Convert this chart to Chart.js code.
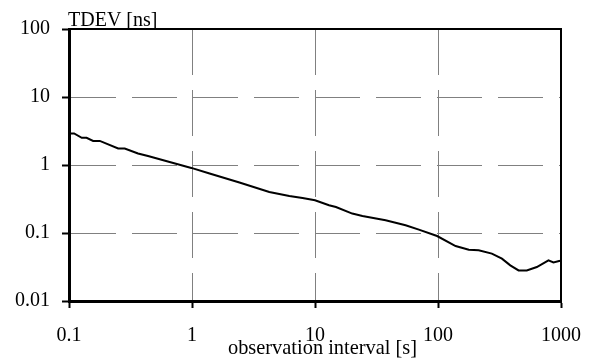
<!DOCTYPE html>
<html>
<head>
<meta charset="utf-8">
<script src="https://cdn.jsdelivr.net/npm/chart.js@4/dist/chart.umd.min.js"></script>
<style>
  html, body { margin: 0; padding: 0; background: #ffffff; }
  #wrap { width: 597px; height: 361px; }
</style>
</head>
<body>
<div id="wrap"><canvas id="c" width="597" height="361"></canvas></div>
<script>
// observation interval tau [s]
const tau = [0.1, 0.11, 0.127, 0.139, 0.157, 0.178, 0.251, 0.284, 0.364, 0.439, 0.658, 0.987,
  1.39, 2.43, 4.25, 6.18, 7.92, 10.0, 13.0, 14.8, 20.1, 24.3, 37.5, 54.5, 69.9, 98.3,
  139, 178, 214, 274, 331, 387, 452, 527, 636, 791, 868, 965, 1000];
// TDEV [ns]
const tdev = [2.91, 2.91, 2.51, 2.51, 2.26, 2.26, 1.75, 1.75, 1.48, 1.36, 1.11, 0.906,
  0.750, 0.552, 0.402, 0.351, 0.328, 0.303, 0.256, 0.2415, 0.193, 0.178, 0.154, 0.130, 0.112, 0.0903,
  0.0643, 0.0569, 0.0556, 0.0497, 0.042, 0.0334, 0.0282, 0.0282, 0.0316, 0.0396, 0.037, 0.0387, 0.039];

const xTickValues = [0.1, 1, 10, 100, 1000];
const xTickLabels = ['0.1', '1', '10', '100', '1000'];
const yTickValues = [0.01, 0.1, 1, 10, 100];
const yTickLabels = ['0.01', '0.1', '1', '10', '100'];

const xTitle = 'observation interval [s]';
const yTitle = 'TDEV [ns]';

const FONT = '"Liberation Serif", "Times New Roman", serif';

const points = tau.map((t, i) => ({ x: t, y: tdev[i] }));

const framePlugin = {
  id: 'frame',
  afterDraw(chart) {
    const ctx = chart.ctx;
    const a = chart.chartArea;
    ctx.save();
    ctx.strokeStyle = '#000';
    ctx.lineWidth = 2;
    ctx.setLineDash([]);
    ctx.beginPath();
    ctx.moveTo(a.left, a.top);
    ctx.lineTo(a.right, a.top);
    ctx.lineTo(a.right, a.bottom);
    ctx.stroke();
    ctx.fillStyle = '#000';
    ctx.font = '20px ' + FONT;
    ctx.textBaseline = 'alphabetic';
    ctx.textAlign = 'left';
    ctx.fillText(yTitle, a.left - 1, a.top - 3);
    ctx.textAlign = 'center';
    ctx.font = '20.4px ' + FONT;
    ctx.fillText(xTitle, (a.left + a.right) / 2 + 7.5, a.bottom + 53);
    ctx.restore();
  }
};

new Chart(document.getElementById('c'), {
  type: 'line',
  data: {
    datasets: [{
      data: points,
      borderColor: '#000000',
      borderWidth: 2,
      pointRadius: 0,
      tension: 0,
      fill: false
    }]
  },
  options: {
    responsive: false,
    animation: false,
    devicePixelRatio: 1,
    layout: { padding: { left: 0, top: 29, right: 34, bottom: 0 } },
    plugins: { legend: { display: false }, tooltip: { enabled: false }, title: { display: false } },
    scales: {
      x: {
        type: 'logarithmic',
        min: 0.1, max: 1000,
        afterBuildTicks(scale) { scale.ticks = xTickValues.map(v => ({ value: v })); },
        afterFit(scale) { scale.height = 60; },
        ticks: {
          autoSkip: false, maxRotation: 0, padding: 16,
          color: '#000',
          font: { family: FONT, size: 20 },
          callback: (v) => { const i = xTickValues.indexOf(v); return i >= 0 ? xTickLabels[i] : ''; }
        },
        grid: {
          color: '#808080', lineWidth: 1,
          drawTicks: true, tickLength: 7, tickColor: '#000', tickWidth: 2, tickBorderDash: []
        },
        border: { display: true, color: '#000', width: 3, dash: [46, 15] }
      },
      y: {
        type: 'logarithmic',
        min: 0.01, max: 100,
        afterBuildTicks(scale) { scale.ticks = yTickValues.map(v => ({ value: v })); },
        afterFit(scale) { scale.width = 69; },
        ticks: {
          autoSkip: false, padding: 12,
          color: '#000',
          font: { family: FONT, size: 20 },
          callback: (v) => { const i = yTickValues.indexOf(v); return i >= 0 ? yTickLabels[i] : ''; }
        },
        grid: {
          color: '#808080', lineWidth: 1,
          drawTicks: true, tickLength: 7, tickColor: '#000', tickWidth: 2, tickBorderDash: []
        },
        border: { display: true, color: '#000', width: 3, dash: [45, 16] }
      }
    }
  },
  plugins: [framePlugin]
});
</script>
</body>
</html>
